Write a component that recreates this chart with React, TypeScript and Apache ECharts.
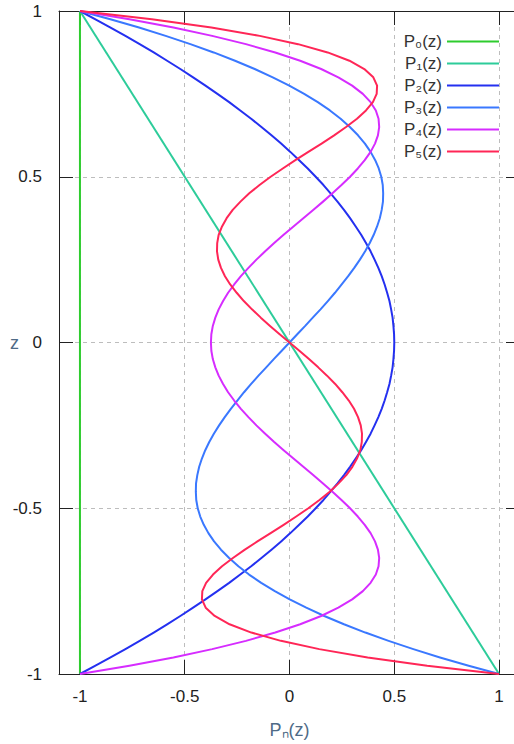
import React, { useEffect, useRef } from "react";
import * as echarts from "echarts";

// z samples (vertical axis), step 0.025
const zValues = [
  -1, -0.975, -0.95, -0.925, -0.9, -0.875, -0.85, -0.825, -0.8, -0.775, -0.75, -0.725, -0.7, -0.675,
  -0.65, -0.625, -0.6, -0.575, -0.55, -0.525, -0.5, -0.475, -0.45, -0.425, -0.4, -0.375, -0.35,
  -0.325, -0.3, -0.275, -0.25, -0.225, -0.2, -0.175, -0.15, -0.125, -0.1, -0.075, -0.05, -0.025, 0,
  0.025, 0.05, 0.075, 0.1, 0.125, 0.15, 0.175, 0.2, 0.225, 0.25, 0.275, 0.3, 0.325, 0.35, 0.375, 0.4,
  0.425, 0.45, 0.475, 0.5, 0.525, 0.55, 0.575, 0.6, 0.625, 0.65, 0.675, 0.7, 0.725, 0.75, 0.775, 0.8,
  0.825, 0.85, 0.875, 0.9, 0.925, 0.95, 0.975, 1,
];

// straight lines: end points
const p0X = [-1, -1];
const p0Z = [-1, 1];
const p1X = [1, -1];
const p1Z = [-1, 1];

// horizontal positions, one per z sample
const p2X = [
  -1, -0.926, -0.854, -0.783, -0.715, -0.648, -0.584, -0.521, -0.46, -0.401, -0.344, -0.288, -0.235,
  -0.183, -0.134, -0.086, -0.04, 0.004, 0.046, 0.087, 0.125, 0.162, 0.196, 0.229, 0.26, 0.289, 0.316,
  0.342, 0.365, 0.387, 0.406, 0.424, 0.44, 0.454, 0.466, 0.477, 0.485, 0.492, 0.496, 0.499, 0.5,
  0.499, 0.496, 0.492, 0.485, 0.477, 0.466, 0.454, 0.44, 0.424, 0.406, 0.387, 0.365, 0.342, 0.316,
  0.289, 0.26, 0.229, 0.196, 0.162, 0.125, 0.087, 0.046, 0.004, -0.04, -0.086, -0.134, -0.183,
  -0.235, -0.288, -0.344, -0.401, -0.46, -0.521, -0.584, -0.648, -0.715, -0.783, -0.854, -0.926, -1,
];

const p3X = [
  1, 0.855, 0.718, 0.591, 0.473, 0.362, 0.26, 0.166, 0.08, 0.001, -0.07, -0.135, -0.193, -0.244,
  -0.288, -0.327, -0.36, -0.387, -0.409, -0.426, -0.438, -0.445, -0.447, -0.446, -0.44, -0.431,
  -0.418, -0.402, -0.383, -0.361, -0.336, -0.309, -0.28, -0.249, -0.217, -0.183, -0.148, -0.111,
  -0.075, -0.037, 0, 0.037, 0.075, 0.111, 0.148, 0.183, 0.217, 0.249, 0.28, 0.309, 0.336, 0.361,
  0.383, 0.402, 0.418, 0.431, 0.44, 0.446, 0.447, 0.445, 0.438, 0.426, 0.409, 0.387, 0.36, 0.327,
  0.288, 0.244, 0.193, 0.135, 0.07, -0.001, -0.08, -0.166, -0.26, -0.362, -0.473, -0.591, -0.718,
  -0.855, -1,
];

const p4X = [
  -1, -0.764, -0.554, -0.369, -0.208, -0.068, 0.051, 0.151, 0.233, 0.299, 0.35, 0.387, 0.412, 0.425,
  0.428, 0.422, 0.408, 0.387, 0.359, 0.326, 0.289, 0.248, 0.205, 0.16, 0.113, 0.066, 0.019, -0.028,
  -0.073, -0.116, -0.158, -0.196, -0.232, -0.264, -0.293, -0.317, -0.338, -0.354, -0.366, -0.373,
  -0.375, -0.373, -0.366, -0.354, -0.338, -0.317, -0.293, -0.264, -0.232, -0.196, -0.158, -0.116,
  -0.073, -0.028, 0.019, 0.066, 0.113, 0.16, 0.205, 0.248, 0.289, 0.326, 0.359, 0.387, 0.408, 0.422,
  0.428, 0.425, 0.412, 0.387, 0.35, 0.299, 0.233, 0.151, 0.051, -0.068, -0.208, -0.369, -0.554,
  -0.764, -1,
];

const p5X = [
  1, 0.657, 0.373, 0.142, -0.041, -0.182, -0.286, -0.357, -0.4, -0.418, -0.416, -0.398, -0.365,
  -0.322, -0.27, -0.213, -0.153, -0.09, -0.028, 0.032, 0.09, 0.143, 0.192, 0.234, 0.271, 0.3, 0.322,
  0.338, 0.345, 0.346, 0.34, 0.327, 0.308, 0.283, 0.252, 0.218, 0.179, 0.137, 0.093, 0.047, 0,
  -0.047, -0.093, -0.137, -0.179, -0.218, -0.252, -0.283, -0.308, -0.327, -0.34, -0.346, -0.345,
  -0.338, -0.322, -0.3, -0.271, -0.234, -0.192, -0.143, -0.09, -0.032, 0.028, 0.09, 0.153, 0.213,
  0.27, 0.322, 0.365, 0.398, 0.416, 0.418, 0.4, 0.357, 0.286, 0.182, 0.041, -0.142, -0.373, -0.657,
  -1,
];

const seriesNames = ["P₀(z)", "P₁(z)", "P₂(z)", "P₃(z)", "P₄(z)", "P₅(z)"];
const seriesColors = ["#2ecc2e", "#2dcc9a", "#2430f0", "#3a78ff", "#d62cff", "#ff2656"];
const tickValues = [-1, -0.5, 0, 0.5, 1];

const FONT = "'Liberation Sans', Arial, sans-serif";

export default function App() {
  const ref = useRef<HTMLDivElement>(null);

  useEffect(() => {
    const chart = echarts.init(ref.current!, null, { renderer: "svg" });
    const pair = (xs: number[], zs: number[]) => xs.map((x, i) => [x, zs[i]]);
    const datasets = [
      pair(p0X, p0Z),
      pair(p1X, p1Z),
      pair(p2X, zValues),
      pair(p3X, zValues),
      pair(p4X, zValues),
      pair(p5X, zValues),
    ];

    const frameLine = { color: "#222", width: 1 };
    const tick = { inside: true, length: 14, lineStyle: { color: "#222", width: 1 } };
    const grid = { show: true, lineStyle: { type: [4, 4], color: "#bdbdbd", width: 1 } };

    chart.setOption({
      animation: false,
      backgroundColor: "#ffffff",
      textStyle: { fontFamily: FONT },
      grid: { left: 59, right: 0, top: 11, bottom: 70, containLabel: false, outerBoundsMode: "none" },
      legend: {
        orient: "vertical",
        right: 21,
        top: 33,
        align: "right",
        icon: "rect",
        itemWidth: 52,
        itemHeight: 2,
        itemGap: 5,
        padding: 0,
        data: seriesNames,
        textStyle: { fontSize: 17, color: "#333", fontFamily: FONT },
      },
      xAxis: [
        {
          type: "value",
          min: -1.1,
          max: 1.1,
          position: "bottom",
          axisLine: { show: true, onZero: false, lineStyle: frameLine },
          axisTick: { ...tick, customValues: tickValues },
          axisLabel: {
            customValues: tickValues,
            margin: 14,
            fontSize: 17,
            color: "#222",
            fontFamily: FONT,
            formatter: (v: number) => String(v),
          },
          splitLine: grid,
          name: "Pₙ(z)",
          nameLocation: "middle",
          nameGap: 47,
          nameMoveOverlap: false,
          nameTextStyle: { fontSize: 18, color: "#4f6b87", fontFamily: FONT },
        },
        {
          type: "value",
          min: -1.1,
          max: 1.1,
          position: "top",
          axisLine: { show: true, onZero: false, lineStyle: frameLine },
          axisTick: { ...tick, customValues: tickValues },
          axisLabel: { show: false, customValues: tickValues },
          splitLine: { show: false },
        },
      ],
      yAxis: [
        {
          type: "value",
          min: -1,
          max: 1,
          interval: 0.5,
          position: "left",
          axisLine: { show: true, onZero: false, lineStyle: frameLine },
          axisTick: tick,
          axisLabel: {
            margin: 17,
            fontSize: 17,
            color: "#222",
            fontFamily: FONT,
            formatter: (v: number) => String(v),
          },
          splitLine: grid,
          name: "z",
          nameLocation: "middle",
          nameRotate: 0,
          nameGap: 40,
          nameMoveOverlap: false,
          nameTextStyle: { fontSize: 18, color: "#4f6b87", fontFamily: FONT },
        },
        {
          type: "value",
          min: -1,
          max: 1,
          interval: 0.5,
          position: "right",
          axisLine: { show: true, onZero: false, lineStyle: frameLine },
          axisTick: tick,
          axisLabel: { show: false },
          splitLine: { show: false },
        },
      ],
      series: datasets.map((data, i) => ({
        name: seriesNames[i],
        type: "line",
        xAxisIndex: 0,
        yAxisIndex: 0,
        data,
        smooth: false,
        showSymbol: false,
        symbol: "none",
        color: seriesColors[i],
        lineStyle: { color: seriesColors[i], width: 2, join: "round" },
      })),
    });

    return () => chart.dispose();
  }, []);

  return (
    <div style={{ position: "absolute", left: 0, top: 0, width: 514, height: 744, overflow: "hidden" }}>
      <div ref={ref} style={{ width: 520, height: 744 }} />
    </div>
  );
}
